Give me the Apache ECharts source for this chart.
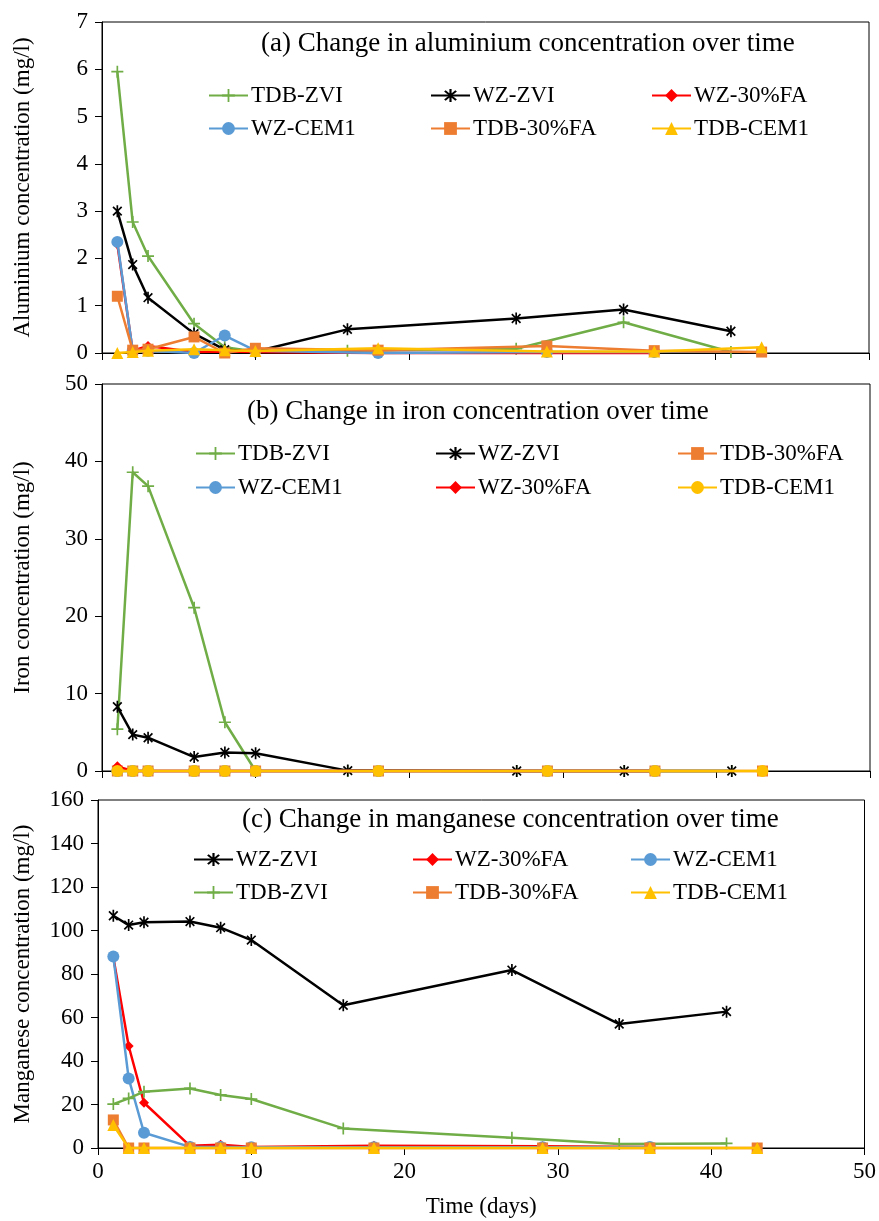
<!DOCTYPE html>
<html lang="en">
<head>
<meta charset="utf-8">
<title>Change in Al, Fe and Mn concentration over time</title>
<script src="https://cdn.jsdelivr.net/npm/echarts@6/dist/echarts.min.js"></script>
<style>
html, body { margin: 0; padding: 0; background: #fff; }
#chart { width: 879px; height: 1221px; }
</style>
</head>
<body>
<div id="chart"></div>
<script>
// sampling days
var daysZVI = [1, 2, 3, 6, 8, 10, 16, 27, 34, 41];
var daysWZMix = [1, 2, 3, 6, 8, 10, 18, 29, 36];
var daysTDBMix = [1, 2, 3, 6, 8, 10, 18, 29, 36, 43];

// (a) aluminium, mg/l
var alTDBZVI = [5.95, 2.77, 2.05, 0.62, 0.12, 0.03, 0.05, 0.09, 0.65, 0.02];
var alWZZVI = [3.0, 1.87, 1.17, 0.41, 0.07, 0.03, 0.5, 0.73, 0.92, 0.46];
var alWZFA = [2.3, 0.05, 0.15, 0.02, 0.03, 0.02, 0.0, 0.0, 0.0];
var alWZCEM = [2.35, 0.05, 0.05, 0.0, 0.37, 0.05, 0.0, 0.02, 0.02];
var alTDBFA = [1.2, 0.06, 0.08, 0.34, 0.0, 0.1, 0.06, 0.15, 0.05, 0.02];
var alTDBCEM = [0.0, 0.02, 0.05, 0.08, 0.06, 0.04, 0.1, 0.03, 0.03, 0.12];

// (b) iron, mg/l
var feTDBZVI = [5.4, 38.6, 36.8, 21.1, 6.3, 0, 0, 0, 0, 0];
var feWZZVI = [8.3, 4.7, 4.3, 1.8, 2.4, 2.3, 0.05, 0, 0, 0];
var feTDBFA = [0, 0, 0, 0, 0, 0, 0, 0, 0, 0];
var feWZCEM = [0, 0, 0, 0, 0, 0, 0, 0, 0];
var feWZFA = [0.6, 0, 0, 0, 0, 0, 0, 0, 0];
var feTDBCEM = [0, 0, 0, 0, 0, 0, 0, 0, 0, 0];

// (c) manganese, mg/l
var mnWZZVI = [106.8, 102.5, 103.8, 104.1, 101.3, 95.6, 65.6, 81.8, 57.0, 62.7];
var mnWZFA = [87.7, 46.9, 20.8, 1.0, 1.5, 0.5, 1.0, 0.8, 0.5];
var mnWZCEM = [88.0, 32.0, 7.0, 0.5, 0.5, 0.3, 0.3, 0.3, 0.5];
var mnTDBZVI = [20.2, 22.8, 25.9, 27.4, 24.4, 22.5, 9.0, 4.7, 1.8, 2.1];
var mnTDBFA = [12.9, 0, 0, 0, 0, 0, 0, 0, 0, 0];
var mnTDBCEM = [10.6, 0, 0, 0, 0, 0, 0, 0, 0, 0];

var FONT = 'Liberation Serif';
var PLUS = 'path://M-0.7,-5L0.7,-5L0.7,-0.7L5,-0.7L5,0.7L0.7,0.7L0.7,5L-0.7,5L-0.7,0.7L-5,0.7L-5,-0.7L-0.7,-0.7Z';
var STAR = 'path://M-0.7,-5L0.7,-5L0.7,5L-0.7,5Z M-4.1,-3.1L-3.1,-4.1L4.1,3.1L3.1,4.1Z M3.1,-4.1L4.1,-3.1L-3.1,4.1L-4.1,3.1Z';

// look of each mix
var looks = {
    'TDB-ZVI': { color: '#70AD47', symbol: PLUS, size: 12 },
    'WZ-ZVI': { color: '#000000', symbol: STAR, size: 12 },
    'WZ-30%FA': { color: '#FF0000', symbol: 'diamond', size: 10 },
    'WZ-CEM1': { color: '#5B9BD5', symbol: 'circle', size: 12 },
    'TDB-30%FA': { color: '#ED7D31', symbol: 'rect', size: 11 },
    'TDB-CEM1': { color: '#FFC000', symbol: 'triangle', size: 12 }
};

// panels: grid box, axis, series (in drawing order) and legend slots
var panels = [
    {
        id: 'a', grid: { left: 102, right: 10, top: 22, height: 331 }, max: 7, step: 1,
        yName: 'Aluminium concentration (mg/l)', nameGap: 68,
        title: '(a) Change in aluminium concentration over time', titleLeft: 261, titleTop: 30,
        series: [
            ['TDB-ZVI', daysZVI, alTDBZVI], ['WZ-ZVI', daysZVI, alWZZVI], ['WZ-30%FA', daysWZMix, alWZFA],
            ['WZ-CEM1', daysWZMix, alWZCEM], ['TDB-30%FA', daysTDBMix, alTDBFA], ['TDB-CEM1', daysTDBMix, alTDBCEM]
        ],
        cols: [208, 430, 651], rows: [96, 129]
    },
    {
        id: 'b', grid: { left: 102, right: 9, top: 384, height: 387 }, max: 50, step: 10,
        yName: 'Iron concentration (mg/l)', nameGap: 68,
        title: '(b) Change in iron concentration over time', titleLeft: 247, titleTop: 398,
        series: [
            ['TDB-ZVI', daysZVI, feTDBZVI], ['WZ-ZVI', daysZVI, feWZZVI], ['TDB-30%FA', daysTDBMix, feTDBFA],
            ['WZ-CEM1', daysWZMix, feWZCEM], ['WZ-30%FA', daysWZMix, feWZFA], ['TDB-CEM1', daysTDBMix, feTDBCEM]
        ],
        cols: [195, 435, 677], rows: [454, 488], override: { 'TDB-CEM1': 'circle' }
    },
    {
        id: 'c', grid: { left: 98, right: 13, top: 800, height: 348 }, max: 160, step: 20,
        yName: 'Manganese concentration (mg/l)', nameGap: 64,
        title: '(c) Change in manganese concentration over time', titleLeft: 242, titleTop: 806,
        series: [
            ['WZ-ZVI', daysZVI, mnWZZVI], ['WZ-30%FA', daysWZMix, mnWZFA], ['WZ-CEM1', daysWZMix, mnWZCEM],
            ['TDB-ZVI', daysZVI, mnTDBZVI], ['TDB-30%FA', daysTDBMix, mnTDBFA], ['TDB-CEM1', daysTDBMix, mnTDBCEM]
        ],
        cols: [193, 412, 630], rows: [860, 893], xLabels: true
    }
];

var grids = [], xAxes = [], yAxes = [], series = [], legends = [], titles = [];

panels.forEach(function (p, k) {
    grids.push(Object.assign({ show: true, borderColor: '#000', borderWidth: 1, containLabel: false }, p.grid));
    xAxes.push({
        gridIndex: k, type: 'value', min: 0, max: 50, interval: 10,
        name: p.xLabels ? 'Time (days)' : '', nameLocation: 'middle', nameGap: 47,
        nameTextStyle: { fontFamily: FONT, fontSize: 23, color: '#000' },
        axisLine: { show: true, onZero: false, lineStyle: { color: '#000', width: 1 } },
        axisTick: { show: true, inside: false, length: 7, lineStyle: { color: '#000' } },
        axisLabel: { show: !!p.xLabels, fontFamily: FONT, fontSize: 23, color: '#000', margin: 12 },
        splitLine: { show: false }
    });
    yAxes.push({
        gridIndex: k, type: 'value', min: 0, max: p.max, interval: p.step,
        name: p.yName, nameLocation: 'middle', nameGap: p.nameGap,
        nameTextStyle: { fontFamily: FONT, fontSize: 23, color: '#000' },
        axisLine: { show: true, lineStyle: { color: '#000', width: 1 } },
        axisTick: { show: true, inside: false, length: 7, lineStyle: { color: '#000' } },
        axisLabel: { fontFamily: FONT, fontSize: 23, color: '#000', margin: 14 },
        splitLine: { show: false }
    });
    titles.push({
        text: p.title, left: p.titleLeft, top: p.titleTop, padding: 0,
        textStyle: { fontFamily: FONT, fontSize: 27, fontWeight: 'normal', color: '#000' }
    });

    p.series.forEach(function (s, i) {
        var look = looks[s[0]];
        var sym = (p.override && p.override[s[0]]) || look.symbol;
        var key = p.id + ':' + s[0];
        series.push({
            name: key, type: 'line', xAxisIndex: k, yAxisIndex: k,
            data: s[1].map(function (d, j) { return [d, s[2][j]]; }),
            symbol: sym, symbolSize: look.size, symbolKeepAspect: true, showSymbol: true,
            lineStyle: { color: look.color, width: 2.5 },
            itemStyle: { color: look.color, borderWidth: 0 },
            clip: false, z: 2 + i, animation: false
        });
        legends.push({
            data: [key], left: p.cols[i % 3], top: p.rows[Math.floor(i / 3)] - 12, padding: 0,
            itemWidth: 39, itemHeight: 16, itemGap: 0, selectedMode: false,
            formatter: function (n) { return n.slice(2); },
            textStyle: { fontFamily: FONT, fontSize: 23, color: '#000', padding: [0, 0, 0, -2] }
        });
    });
});

var chart = echarts.init(document.getElementById('chart'), null, { renderer: 'canvas' });
chart.setOption({
    backgroundColor: '#fff',
    animation: false,
    title: titles,
    grid: grids,
    xAxis: xAxes,
    yAxis: yAxes,
    legend: legends,
    series: series
});
</script>
</body>
</html>
